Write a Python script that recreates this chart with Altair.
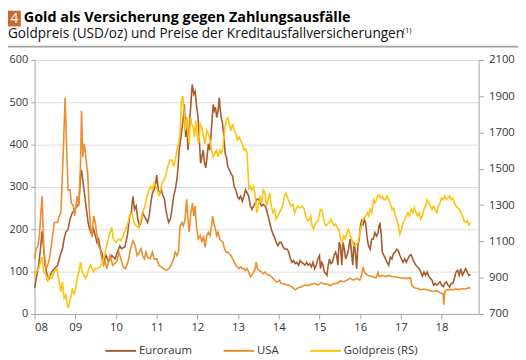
import altair as alt
import pandas as pd

TITLE = "Gold als Versicherung gegen Zahlungsausfälle"
SUBTITLE = "Goldpreis (USD/oz) und Preise der Kreditausfallversicherungen"
FOOTNOTE_MARK = "(1)"
BOX_LABEL = "4"

SERIES = ["Euroraum", "USA", "Goldpreis (RS)"]
COLORS = ["#A65B2C", "#EE8D2B", "#FFC20E"]

LEFT_TICKS = [0, 100, 200, 300, 400, 500, 600]
RIGHT_TICKS = [700, 900, 1100, 1300, 1500, 1700, 1900, 2100]
YEAR_TICKS = list(range(2008, 2019))

EU_T = [2008.00, 2008.04, 2008.10, 2008.145, 2008.185, 2008.226, 2008.258, 2008.306, 2008.363, 2008.419,
        2008.484, 2008.565, 2008.629, 2008.685, 2008.726, 2008.766, 2008.823, 2008.871, 2008.927, 2008.984,
        2009.048, 2009.089, 2009.129, 2009.153, 2009.194, 2009.234, 2009.274, 2009.315, 2009.355, 2009.411,
        2009.452, 2009.492, 2009.532, 2009.573, 2009.613, 2009.653, 2009.694, 2009.758, 2009.815, 2009.895,
        2009.976, 2010.096, 2010.136, 2010.216, 2010.28, 2010.336, 2010.376, 2010.416, 2010.456, 2010.496,
        2010.536, 2010.576, 2010.616, 2010.656, 2010.696, 2010.736, 2010.776, 2010.816, 2010.856, 2010.896,
        2010.936, 2010.976, 2011.0, 2011.04, 2011.08, 2011.112, 2011.16, 2011.192, 2011.224, 2011.256,
        2011.296, 2011.336, 2011.376, 2011.416, 2011.456, 2011.496, 2011.52, 2011.552, 2011.576, 2011.616,
        2011.656, 2011.68, 2011.712, 2011.736, 2011.768, 2011.80, 2011.84, 2011.872, 2011.912, 2011.944,
        2011.976, 2012.016, 2012.08, 2012.11, 2012.143, 2012.175, 2012.206, 2012.238, 2012.27, 2012.302,
        2012.333, 2012.365, 2012.389, 2012.413, 2012.444, 2012.476, 2012.508, 2012.54, 2012.563, 2012.587,
        2012.619, 2012.651, 2012.683, 2012.714, 2012.746, 2012.786, 2012.825, 2012.865, 2012.905, 2012.944,
        2012.984, 2013.024, 2013.063, 2013.103, 2013.143, 2013.183, 2013.222, 2013.262, 2013.302, 2013.341,
        2013.381, 2013.421, 2013.46, 2013.5, 2013.54, 2013.579, 2013.619, 2013.659, 2013.698, 2013.738,
        2013.778, 2013.817, 2013.857, 2013.897, 2013.937, 2013.976, 2014.016, 2014.056, 2014.095, 2014.135,
        2014.206, 2014.246, 2014.286, 2014.325, 2014.365, 2014.405, 2014.444, 2014.484, 2014.524, 2014.563,
        2014.603, 2014.643, 2014.683, 2014.722, 2014.762, 2014.802, 2014.841, 2014.881, 2014.921, 2014.96,
        2015.0, 2015.024, 2015.056, 2015.087, 2015.119, 2015.159, 2015.183, 2015.214, 2015.246, 2015.278,
        2015.317, 2015.357, 2015.397, 2015.421, 2015.452, 2015.484, 2015.516, 2015.548, 2015.579, 2015.611,
        2015.643, 2015.675, 2015.714, 2015.754, 2015.786, 2015.817, 2015.849, 2015.881, 2015.913, 2015.944,
        2015.976, 2016.008, 2016.04, 2016.071, 2016.103, 2016.135, 2016.173, 2016.205, 2016.244, 2016.283,
        2016.323, 2016.362, 2016.402, 2016.441, 2016.465, 2016.488, 2016.52, 2016.543, 2016.583, 2016.622,
        2016.661, 2016.701, 2016.74, 2016.78, 2016.819, 2016.858, 2016.898, 2016.937, 2016.976, 2017.016,
        2017.055, 2017.094, 2017.134, 2017.173, 2017.213, 2017.252, 2017.291, 2017.331, 2017.37, 2017.409,
        2017.449, 2017.488, 2017.528, 2017.567, 2017.606, 2017.646, 2017.685, 2017.724, 2017.764, 2017.803,
        2017.843, 2017.882, 2017.921, 2017.961, 2018.0, 2018.039, 2018.079, 2018.118, 2018.157, 2018.197,
        2018.236, 2018.276, 2018.315, 2018.354, 2018.394, 2018.433, 2018.472, 2018.512, 2018.551, 2018.591,
        2018.63, 2018.669, 2018.709]
EU_V = [61, 84, 115, 154, 195, 154, 115, 92, 84, 99,
        107, 115, 138, 154, 177, 193, 200, 224, 239, 247,
        255, 262, 325, 340, 309, 278, 247, 216, 200, 185,
        200, 185, 169, 177, 154, 146, 123, 138, 123, 138,
        130, 161, 154, 158, 185, 231, 239, 278, 247, 255,
        224, 208, 216, 239, 231, 224, 216, 231, 262, 286,
        293, 309, 328, 293, 286, 293, 278, 271, 247, 231,
        216, 224, 247, 278, 293, 317, 340, 387, 402, 433,
        464, 495, 418, 464, 387, 441, 495, 542, 519, 526,
        495, 464, 356, 371, 387, 356, 345, 371, 402, 387,
        418, 464, 495, 480, 488, 464, 480, 511, 480, 464,
        449, 418, 379, 371, 348, 340, 332, 325, 301, 293,
        278, 271, 278, 266, 278, 293, 286, 278, 255, 247,
        255, 262, 271, 271, 262, 255, 259, 255, 247, 231,
        216, 200, 189, 181, 169, 161, 169, 169, 161, 154,
        153, 146, 130, 122, 126, 119, 122, 115, 126, 122,
        119, 115, 122, 115, 119, 111, 122, 107, 115, 130,
        138, 107, 122, 115, 99, 95, 91, 115, 130, 119,
        122, 138, 146, 138, 115, 169, 161, 115, 169, 153,
        130, 138, 153, 177, 146, 115, 169, 146, 107, 161,
        177, 209, 223, 209, 223, 215, 177, 161, 153, 177,
        177, 192, 184, 192, 209, 213, 184, 146, 138, 130,
        122, 115, 134, 130, 143, 146, 153, 150, 138, 130,
        122, 130, 122, 130, 138, 140, 130, 122, 115, 111,
        107, 99, 89, 99, 91, 99, 89, 84, 80, 68,
        72, 68, 72, 76, 68, 64, 72, 76, 68, 64,
        72, 72, 84, 99, 103, 91, 107, 91, 99, 107,
        99, 91, 93]

US_T = [2008.00, 2008.04, 2008.08, 2008.12, 2008.16, 2008.185, 2008.226, 2008.258, 2008.282, 2008.323,
        2008.363, 2008.403, 2008.484, 2008.565, 2008.605, 2008.645, 2008.685, 2008.71, 2008.75, 2008.79,
        2008.823, 2008.871, 2008.903, 2008.952, 2008.984, 2009.016, 2009.048, 2009.089, 2009.129, 2009.153,
        2009.185, 2009.226, 2009.266, 2009.306, 2009.339, 2009.371, 2009.411, 2009.452, 2009.492, 2009.532,
        2009.573, 2009.613, 2009.653, 2009.694, 2009.734, 2009.774, 2009.855, 2009.919, 2010.016, 2010.072,
        2010.12, 2010.176, 2010.232, 2010.296, 2010.36, 2010.416, 2010.472, 2010.52, 2010.576, 2010.616,
        2010.656, 2010.696, 2010.736, 2010.776, 2010.84, 2010.896, 2010.936, 2011.0, 2011.056, 2011.112,
        2011.176, 2011.24, 2011.296, 2011.352, 2011.416, 2011.456, 2011.496, 2011.536, 2011.576, 2011.616,
        2011.656, 2011.696, 2011.736, 2011.768, 2011.80, 2011.84, 2011.88, 2011.912, 2011.944, 2011.976,
        2012.024, 2012.071, 2012.11, 2012.151, 2012.19, 2012.23, 2012.27, 2012.31, 2012.349, 2012.373,
        2012.40, 2012.444, 2012.476, 2012.508, 2012.548, 2012.587, 2012.627, 2012.667, 2012.706, 2012.746,
        2012.786, 2012.825, 2012.865, 2012.905, 2012.944, 2012.984, 2013.024, 2013.063, 2013.103, 2013.143,
        2013.183, 2013.222, 2013.262, 2013.302, 2013.341, 2013.381, 2013.421, 2013.444, 2013.476, 2013.524,
        2013.579, 2013.619, 2013.659, 2013.698, 2013.738, 2013.778, 2013.817, 2013.857, 2013.897, 2013.937,
        2013.976, 2014.016, 2014.056, 2014.095, 2014.135, 2014.246, 2014.325, 2014.405, 2014.444, 2014.484,
        2014.563, 2014.643, 2014.722, 2014.802, 2014.881, 2014.96, 2015.04, 2015.119, 2015.198, 2015.278,
        2015.357, 2015.437, 2015.516, 2015.595, 2015.675, 2015.754, 2015.833, 2015.913, 2015.992, 2016.03,
        2016.071, 2016.103, 2016.135, 2016.19, 2016.228, 2016.307, 2016.386, 2016.44, 2016.465, 2016.543,
        2016.622, 2016.701, 2016.78, 2016.858, 2016.937, 2017.016, 2017.094, 2017.173, 2017.236, 2017.268,
        2017.331, 2017.409, 2017.488, 2017.567, 2017.646, 2017.724, 2017.803, 2017.882, 2017.961, 2018.039,
        2018.055, 2018.079, 2018.118, 2018.197, 2018.276, 2018.354, 2018.433, 2018.512, 2018.591, 2018.669,
        2018.709]
US_V = [130, 154, 160, 185, 247, 278, 154, 123, 107, 115,
        130, 154, 216, 216, 231, 239, 332, 394, 511, 387,
        293, 293, 262, 255, 231, 255, 278, 255, 356, 480,
        371, 402, 363, 332, 255, 208, 185, 231, 216, 185,
        161, 154, 130, 115, 123, 107, 138, 115, 123, 146,
        130, 111, 107, 123, 154, 173, 161, 138, 146, 154,
        138, 130, 146, 134, 130, 146, 130, 130, 115, 111,
        107, 103, 107, 115, 130, 146, 138, 146, 208, 216,
        208, 224, 271, 224, 193, 239, 262, 231, 255, 208,
        177, 185, 169, 185, 158, 185, 193, 185, 208, 231,
        216, 200, 185, 193, 177, 173, 169, 154, 146, 146,
        142, 138, 130, 123, 115, 111, 107, 111, 107, 107,
        103, 107, 99, 88, 92, 99, 107, 123, 107, 103,
        99, 95, 99, 95, 92, 92, 88, 84, 80, 76,
        76, 80, 72, 72, 70, 68, 64, 57, 60, 62,
        64, 68, 67, 70, 72, 68, 74, 71, 70, 67,
        72, 72, 78, 76, 80, 84, 80, 84, 80, 91,
        111, 99, 95, 91, 90, 88, 85, 98, 88, 91,
        88, 91, 88, 88, 86, 85, 84, 84, 85, 68,
        62, 60, 57, 59, 57, 55, 53, 55, 50, 48,
        22, 53, 57, 58, 57, 59, 58, 60, 59, 62,
        60]

GOLD_T = [2008.00, 2008.04, 2008.10, 2008.145, 2008.185, 2008.226, 2008.282, 2008.323, 2008.363, 2008.419,
          2008.484, 2008.548, 2008.605, 2008.645, 2008.685, 2008.726, 2008.766, 2008.79, 2008.823, 2008.871,
          2008.927, 2008.968, 2009.008, 2009.048, 2009.089, 2009.129, 2009.169, 2009.21, 2009.25, 2009.29,
          2009.331, 2009.371, 2009.411, 2009.452, 2009.492, 2009.532, 2009.613, 2009.677, 2009.734, 2009.79,
          2009.855, 2009.895, 2009.935, 2010.0, 2010.072, 2010.12, 2010.176, 2010.232, 2010.296, 2010.336,
          2010.392, 2010.44, 2010.496, 2010.552, 2010.60, 2010.656, 2010.712, 2010.76, 2010.816, 2010.856,
          2010.896, 2010.936, 2010.976, 2011.016, 2011.056, 2011.096, 2011.136, 2011.176, 2011.216, 2011.272,
          2011.32, 2011.376, 2011.416, 2011.456, 2011.496, 2011.536, 2011.576, 2011.608, 2011.64, 2011.672,
          2011.704, 2011.736, 2011.768, 2011.80, 2011.832, 2011.864, 2011.896, 2011.928, 2011.96, 2011.992,
          2012.03, 2012.071, 2012.11, 2012.151, 2012.19, 2012.23, 2012.27, 2012.31, 2012.349, 2012.389,
          2012.429, 2012.468, 2012.508, 2012.548, 2012.587, 2012.627, 2012.667, 2012.706, 2012.746, 2012.786,
          2012.825, 2012.865, 2012.905, 2012.944, 2012.984, 2013.024, 2013.063, 2013.103, 2013.143, 2013.183,
          2013.222, 2013.246, 2013.27, 2013.302, 2013.341, 2013.381, 2013.421, 2013.46, 2013.5, 2013.54,
          2013.579, 2013.619, 2013.659, 2013.698, 2013.738, 2013.778, 2013.817, 2013.857, 2013.897, 2013.937,
          2013.976, 2014.016, 2014.056, 2014.095, 2014.135, 2014.175, 2014.262, 2014.31, 2014.35, 2014.389,
          2014.421, 2014.468, 2014.524, 2014.579, 2014.627, 2014.659, 2014.706, 2014.746, 2014.786, 2014.817,
          2014.849, 2014.881, 2014.921, 2014.96, 2014.992, 2015.024, 2015.056, 2015.087, 2015.119, 2015.159,
          2015.198, 2015.238, 2015.278, 2015.317, 2015.357, 2015.397, 2015.437, 2015.476, 2015.516, 2015.556,
          2015.595, 2015.635, 2015.675, 2015.714, 2015.754, 2015.794, 2015.833, 2015.873, 2015.913, 2015.952,
          2015.992, 2016.032, 2016.071, 2016.103, 2016.135, 2016.173, 2016.205, 2016.244, 2016.283, 2016.307,
          2016.331, 2016.362, 2016.386, 2016.425, 2016.465, 2016.504, 2016.543, 2016.583, 2016.622, 2016.661,
          2016.701, 2016.74, 2016.78, 2016.819, 2016.858, 2016.898, 2016.937, 2016.976, 2017.016, 2017.055,
          2017.094, 2017.134, 2017.173, 2017.213, 2017.252, 2017.291, 2017.331, 2017.37, 2017.409, 2017.449,
          2017.488, 2017.528, 2017.567, 2017.606, 2017.646, 2017.685, 2017.724, 2017.764, 2017.803, 2017.843,
          2017.882, 2017.921, 2017.961, 2018.0, 2018.039, 2018.079, 2018.118, 2018.157, 2018.197, 2018.236,
          2018.276, 2018.315, 2018.354, 2018.394, 2018.433, 2018.472, 2018.512, 2018.551, 2018.591, 2018.63,
          2018.669, 2018.709]
GOLD_V = [896, 932, 950, 986, 1013, 932, 914, 877, 914, 896,
          932, 950, 877, 823, 877, 787, 805, 769, 733, 769,
          841, 805, 841, 896, 932, 986, 932, 914, 896, 914,
          950, 968, 950, 932, 950, 950, 959, 986, 1041, 1095,
          1149, 1176, 1113, 1095, 1113, 1104, 1131, 1167, 1204, 1240,
          1258, 1204, 1186, 1176, 1204, 1258, 1294, 1349, 1385, 1403,
          1385, 1421, 1403, 1385, 1349, 1385, 1421, 1439, 1457, 1512,
          1548, 1548, 1512, 1548, 1602, 1638, 1693, 1874, 1901, 1820,
          1711, 1783, 1693, 1638, 1783, 1747, 1729, 1675, 1765, 1693,
          1640, 1747, 1729, 1675, 1638, 1711, 1693, 1657, 1602, 1566,
          1584, 1602, 1566, 1602, 1584, 1620, 1711, 1765, 1783, 1747,
          1711, 1747, 1711, 1693, 1657, 1675, 1657, 1638, 1602, 1611,
          1584, 1475, 1385, 1403, 1385, 1403, 1349, 1258, 1294, 1349,
          1312, 1385, 1367, 1294, 1330, 1367, 1294, 1258, 1276, 1222,
          1240, 1258, 1276, 1294, 1349, 1367, 1312, 1294, 1303, 1258,
          1276, 1294, 1285, 1294, 1276, 1240, 1213, 1222, 1240, 1186,
          1167, 1186, 1204, 1213, 1240, 1276, 1276, 1240, 1204, 1186,
          1195, 1204, 1222, 1204, 1186, 1195, 1176, 1167, 1113, 1095,
          1131, 1113, 1149, 1167, 1131, 1113, 1077, 1077, 1086, 1095,
          1149, 1186, 1222, 1231, 1240, 1258, 1240, 1276, 1258, 1294,
          1330, 1312, 1321, 1349, 1357, 1339, 1349, 1330, 1330, 1349,
          1330, 1312, 1276, 1285, 1240, 1222, 1186, 1140, 1167, 1204,
          1222, 1240, 1258, 1240, 1276, 1258, 1285, 1258, 1240, 1258,
          1222, 1240, 1276, 1294, 1330, 1312, 1294, 1276, 1294, 1276,
          1258, 1294, 1312, 1339, 1330, 1349, 1330, 1339, 1349, 1330,
          1339, 1312, 1294, 1285, 1276, 1258, 1240, 1213, 1204, 1213,
          1190, 1202]

FONT = "Open Sans"
AXIS_GREY = "#a6a6a6"
TEXT = "#333333"

left_df = pd.concat([
    pd.DataFrame({"t": EU_T, "v": EU_V, "series": SERIES[0]}),
    pd.DataFrame({"t": US_T, "v": US_V, "series": SERIES[1]}),
])
gold_df = pd.DataFrame({"t": GOLD_T, "g": GOLD_V, "series": SERIES[2]})

color = alt.Color(
    "series:N",
    scale=alt.Scale(domain=SERIES, range=COLORS),
    legend=alt.Legend(
        orient="none", legendX=71, legendY=279, direction="horizontal", title=None,
        symbolType="stroke", symbolSize=961, symbolStrokeWidth=2,
        labelFont=FONT, labelFontSize=11.5, labelColor=TEXT, labelOffset=2,
        columnPadding=28, padding=0,
    ),
)

x_enc = alt.X(
    "t:Q",
    scale=alt.Scale(domain=[2008, 2018.91], nice=False, zero=False),
    axis=alt.Axis(values=YEAR_TICKS, labelExpr="substring(toString(datum.value), 2, 4)",
                  title=None, grid=False, tickSize=5, labelPadding=3),
)

left = alt.Chart(left_df).mark_line(strokeWidth=1.6).encode(
    x=x_enc,
    y=alt.Y("v:Q", scale=alt.Scale(domain=[0, 600], nice=False),
            axis=alt.Axis(values=LEFT_TICKS, title=None, grid=True, gridColor="#dcdcdc",
                          tickSize=4, labelPadding=3, labelFontSize=11)),
    color=color,
    order="t:Q",
)

gold = alt.Chart(gold_df).mark_line(strokeWidth=1.6).encode(
    x=x_enc,
    y=alt.Y("g:Q", scale=alt.Scale(domain=[700, 2100], nice=False, zero=False),
            axis=alt.Axis(orient="right", values=RIGHT_TICKS, title=None, grid=False,
                          format="d", tickSize=5, labelPadding=5)),
    color=color,
    order="t:Q",
)

one = pd.DataFrame({"k": [0]})
box = alt.Chart(one).mark_rect(color="#C8692F").encode(
    x=alt.value(-27), x2=alt.value(-14), y=alt.value(-50), y2=alt.value(-34))
box_txt = alt.Chart(one).mark_text(text=BOX_LABEL, color="white", font=FONT, fontSize=14,
                                   align="center", baseline="alphabetic").encode(
    x=alt.value(-20.5), y=alt.value(-37.5))
title_txt = alt.Chart(one).mark_text(text=TITLE, color="#000000", font=FONT, fontSize=14.6,
                                     fontWeight="bold", align="left", baseline="alphabetic").encode(
    x=alt.value(-11), y=alt.value(-38.5))
sub_txt = alt.Chart(one).mark_text(text=SUBTITLE, color="#111111", font=FONT, fontSize=13.8,
                                   align="left", baseline="alphabetic").encode(
    x=alt.value(-27), y=alt.value(-22.3))
sup_txt = alt.Chart(one).mark_text(text=FOOTNOTE_MARK, color="#111111", font=FONT, fontSize=7.5,
                                   align="left", baseline="alphabetic").encode(
    x=alt.value(374), y=alt.value(-27))
rule = alt.Chart(one).mark_rule(color="#a0a0a0", strokeWidth=2).encode(
    x=alt.value(-27), x2=alt.value(491), y=alt.value(-13.5))

chart = alt.layer(left, gold, box, box_txt, title_txt, sub_txt, sup_txt, rule).resolve_scale(
    y="independent"
).properties(
    width=451, height=258,
    autosize=alt.AutoSizeParams(type="none"),
    padding={"left": 27, "top": 50, "right": 40, "bottom": 42},
).configure_view(stroke=None).configure_axis(
    domainColor=AXIS_GREY, tickColor=AXIS_GREY, labelFont=FONT, labelFontSize=11.5,
    labelColor=TEXT,
)

chart.save("out.html", embed_options={"renderer": "svg", "actions": False})
